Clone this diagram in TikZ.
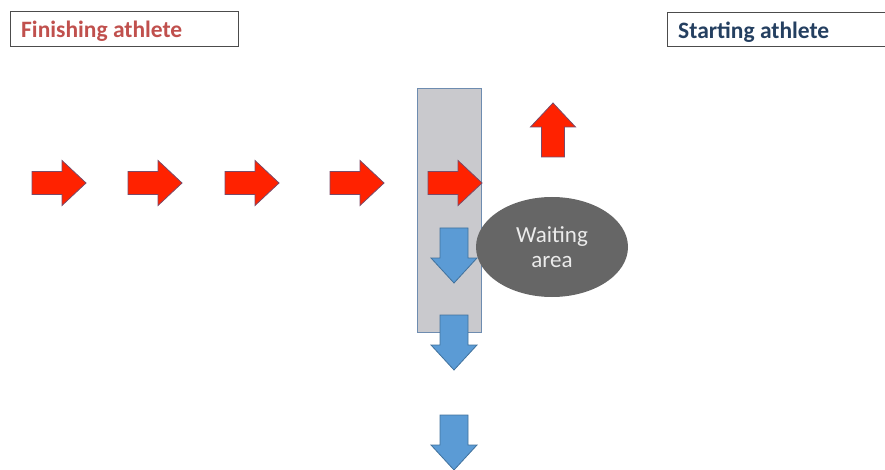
\documentclass[tikz,border=0pt]{standalone}
\usepackage{fontspec}
\setmainfont{Carlito}
\usetikzlibrary{shapes.geometric}
\definecolor{finred}{HTML}{C0504D}
\definecolor{startnavy}{HTML}{243F60}
\definecolor{arrred}{HTML}{FF2200}
\definecolor{arredge}{HTML}{7A4A68}
\definecolor{arrblue}{HTML}{5B9BD5}
\definecolor{blueedge}{HTML}{41719C}
\definecolor{lanegrey}{HTML}{C9C9CD}
\definecolor{laneedge}{HTML}{6E8CB0}
\definecolor{waitgrey}{HTML}{666666}

\begin{document}
\begin{tikzpicture}[x=1pt,y=-1pt,
 tag/.style={draw=black!70,line width=1.2pt,anchor=north west,inner sep=0pt},
 tagtext/.style={anchor=west,inner sep=0pt,font=\fontsize{23.5}{27}\selectfont\bfseries},
 lane/.style={draw=laneedge,line width=1.3pt,fill=lanegrey,anchor=north west,inner sep=0pt},
 waiting/.style={ellipse,fill=waitgrey,inner sep=0pt,text=black!8,align=center,font=\fontsize{23}{25}\selectfont},
 rarrow/.pic={\draw[fill=arrred,draw=arredge,line width=.8pt,line join=miter]
   (0,-11.5)--(30,-11.5)--(30,-22.5)--(54,0)--(30,22.5)--(30,11.5)--(0,11.5)--cycle;},
 barrow/.pic={\draw[fill=arrblue,draw=blueedge,line width=.8pt,line join=miter]
   (-14,0)--(14,0)--(14,30)--(23,30)--(0,55)--(-23,30)--(-14,30)--cycle;}]
\clip (0,0) rectangle (885,470);

% labels at the top
\node[tag,minimum width=228pt,minimum height=35pt] (finish) at (10,11) {};
\node[tagtext,text=finred] (finishtxt) at (21,31) {Finishing athlete};
\node[tag,minimum width=225pt,minimum height=34pt] (start) at (667,12) {};
\node[tagtext,text=startnavy] (starttxt) at (678,32) {Starting athlete};

% changeover lane and waiting area
\node[lane,minimum width=64pt,minimum height=244pt] (lane) at (417,88) {};
\node[waiting,minimum width=152pt,minimum height=100pt] (wait) at (552,247) {Waiting\\area};

% finishing athletes running in
\foreach \x in {32,128,225,330,428} {\pic at (\x,183) {rarrow};}
% starting athlete leaving
\pic[rotate=90] at (553,157) {rarrow};
% athletes going down
\foreach \y in {228,315,415} {\pic at (454,\y) {barrow};}
\end{tikzpicture}
\end{document}
